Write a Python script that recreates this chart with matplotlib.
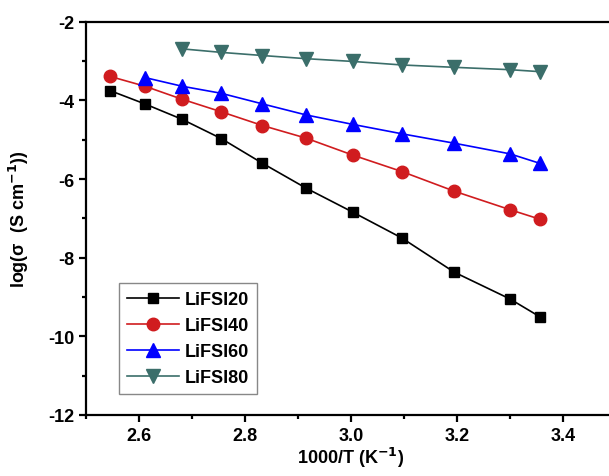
import matplotlib
matplotlib.use("Agg")
import matplotlib.pyplot as plt
from matplotlib.ticker import MultipleLocator

plt.rcParams['font.family'] = ['Liberation Sans', 'DejaVu Sans']
plt.rcParams['axes.unicode_minus'] = False

# 1000/T values (K^-1)
x20 = [2.545, 2.611, 2.681, 2.755, 2.833, 2.915, 3.003, 3.096, 3.195, 3.300, 3.356]
x40 = [2.545, 2.611, 2.681, 2.755, 2.833, 2.915, 3.003, 3.096, 3.195, 3.300, 3.356]
x60 = [2.611, 2.681, 2.755, 2.833, 2.915, 3.003, 3.096, 3.195, 3.300, 3.356]
x80 = [2.681, 2.755, 2.833, 2.915, 3.003, 3.096, 3.195, 3.300, 3.356]

# log(sigma) values
y20 = [-3.75, -4.09, -4.48, -4.97, -5.60, -6.23, -6.84, -7.50, -8.37, -9.05, -9.50]
y40 = [-3.39, -3.64, -3.97, -4.29, -4.64, -4.96, -5.39, -5.81, -6.31, -6.78, -7.02]
y60 = [-3.42, -3.64, -3.82, -4.09, -4.37, -4.61, -4.85, -5.09, -5.36, -5.60]
y80 = [-2.69, -2.78, -2.86, -2.94, -3.01, -3.10, -3.16, -3.22, -3.27]

labels = ['LiFSI20', 'LiFSI40', 'LiFSI60', 'LiFSI80']

fig = plt.figure(figsize=(6.09, 4.77), dpi=100)
# axes runs past the right edge, the original is cropped there
ax = fig.add_axes([86 / 609, (477 - 416) / 477, 530 / 609, 393.3 / 477])

ax.plot(x20, y20, color='black', marker='s', markersize=7.5, lw=1.2, label=labels[0])
ax.plot(x40, y40, color='#d01c1f', marker='o', markersize=9, lw=1.2, label=labels[1])
ax.plot(x60, y60, color='#0000ff', marker='^', markersize=9.5, lw=1.2, label=labels[2])
ax.plot(x80, y80, color='#3b6e6a', marker='v', markersize=9.5, lw=1.2, label=labels[3])

ax.set_xlim(2.5, 3.5)
ax.set_ylim(-12, -2)
ax.xaxis.set_major_locator(MultipleLocator(0.2))
ax.xaxis.set_minor_locator(MultipleLocator(0.1))
ax.yaxis.set_major_locator(MultipleLocator(2))
ax.yaxis.set_minor_locator(MultipleLocator(1))

for s in ['left', 'bottom', 'top', 'right']:
    ax.spines[s].set_linewidth(1.6)
ax.tick_params(which='major', direction='out', length=5, width=1.6, labelsize=13)
ax.tick_params(which='minor', direction='out', length=3, width=1.6)
ax.tick_params(top=False, right=False, which='both')
for t in ax.get_xticklabels() + ax.get_yticklabels():
    t.set_fontweight('bold')

ax.set_xlabel('1000/T (K$^{\\mathbf{-1}}$)', fontsize=13, fontweight='bold', labelpad=1)
ax.set_ylabel('log(σ  (S cm$^{\\mathbf{-1}}$))', fontsize=13, fontweight='bold', labelpad=12)

leg = ax.legend(loc='lower left', bbox_to_anchor=(0.062, 0.053), borderaxespad=0,
                fancybox=False, edgecolor='#888888', framealpha=1,
                prop={'weight': 'bold', 'size': 13}, handlelength=2.9,
                labelspacing=0.5, borderpad=0.45, handletextpad=0.3)
leg.get_frame().set_linewidth(1.0)

fig.savefig('out.png', dpi=100)
